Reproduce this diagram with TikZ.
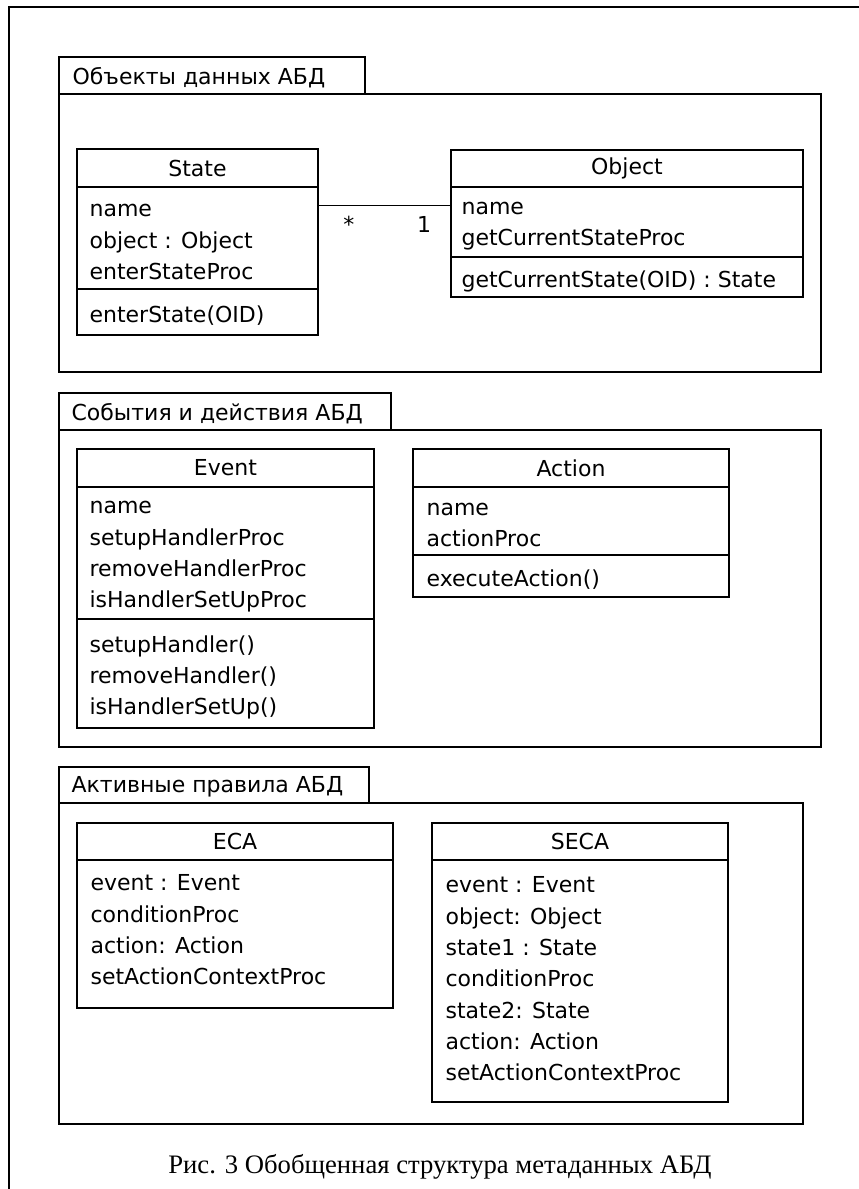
\documentclass[tikz,border=0pt]{standalone}
\usepackage{fontspec}
\newfontfamily\umlfont{DejaVu Sans}
\newfontfamily\capfont{Liberation Serif}
\usetikzlibrary{positioning,fit}

\tikzset{
  box/.style={draw, line width=1pt, inner sep=0pt},
  title/.style={inner sep=0pt, font=\umlfont\fontsize{16.5}{23}\selectfont},
  tabtext/.style={anchor=west, inner sep=0pt, yshift=-1.5pt, font=\umlfont\fontsize{16.5}{23}\selectfont},
  members/.style={anchor=west, align=left, inner sep=0pt, yshift=-3pt, font=\umlfont\fontsize{16.5}{23.5}\selectfont},
  mult/.style={below=8pt, inner sep=0pt, font=\umlfont\fontsize{16.5}{23}\selectfont},
}

\begin{document}
\begin{tikzpicture}[x=0.75pt, y=-0.75pt]
  \useasboundingbox (0,0) rectangle (859,1189);
  \draw[line width=1pt] (9,1189) -- (9,7) -- (859,7);

  % data objects
  \node[box, fit={(59,57) (365,94)}] (tab1) {};
  \node[tabtext, right=10.5pt of tab1.west] (tab1t) {Объекты данных АБД};
  \node[box, fit={(59,94) (821,372)}] (pkg1) {};

  \node[box, fit={(77,149) (318,187)}] (stateH) {};
  \node[box, fit={(77,187) (318,289)}] (stateA) {};
  \node[box, fit={(77,289) (318,335)}] (stateM) {};
  \node[title] (stateT) at (stateH) {State};
  \node[members, right=9.75pt of stateA.west] (stateAt) {name\\object : Object\\enterStateProc};
  \node[members, right=9.75pt of stateM.west] (stateMt) {enterState(OID)};

  \node[box, fit={(451,150) (803,187)}] (objH) {};
  \node[box, fit={(451,187) (803,257)}] (objA) {};
  \node[box, fit={(451,257) (803,297)}] (objM) {};
  \node[title] (objT) at (objH) {Object};
  \node[members, right=8.25pt of objA.west] (objAt) {name\\getCurrentStateProc};
  \node[members, right=8.25pt of objM.west] (objMt) {getCurrentState(OID) : State};

  \draw[line width=1pt] ([yshift=-14.25pt]stateA.north east) -- ([yshift=-14.25pt]objA.north west)
    node[mult, pos=0.23] (m1) {*}
    node[mult, pos=0.80] (m2) {1};

  % events and actions
  \node[box, fit={(59,393) (391,430)}] (tab2) {};
  \node[tabtext, right=9.75pt of tab2.west] (tab2t) {События и действия АБД};
  \node[box, fit={(59,430) (821,747)}] (pkg2) {};

  \node[box, fit={(77,449) (374,487)}] (eventH) {};
  \node[box, fit={(77,487) (374,619)}] (eventA) {};
  \node[box, fit={(77,619) (374,728)}] (eventM) {};
  \node[title] (eventT) at (eventH) {Event};
  \node[members, right=9.75pt of eventA.west] (eventAt) {name\\setupHandlerProc\\removeHandlerProc\\isHandlerSetUpProc};
  \node[members, right=9.75pt of eventM.west] (eventMt) {setupHandler()\\removeHandler()\\isHandlerSetUp()};

  \node[box, fit={(413,449) (729,487)}] (actH) {};
  \node[box, fit={(413,487) (729,555)}] (actA) {};
  \node[box, fit={(413,555) (729,597)}] (actM) {};
  \node[title] (actT) at (actH) {Action};
  \node[members, right=10.5pt of actA.west] (actAt) {name\\actionProc};
  \node[members, right=10.5pt of actM.west] (actMt) {executeAction()};

  % active rules
  \node[box, fit={(59,767) (369,803)}] (tab3) {};
  \node[tabtext, right=9.75pt of tab3.west] (tab3t) {Активные правила АБД};
  \node[box, fit={(59,803) (803,1124)}] (pkg3) {};

  \node[box, fit={(77,823) (393,860)}] (ecaH) {};
  \node[box, fit={(77,860) (393,1008)}] (ecaA) {};
  \node[title] (ecaT) at (ecaH) {ECA};
  \node[members, right=10.5pt of ecaA.west, yshift=6pt] (ecaAt) {event : Event\\conditionProc\\action: Action\\setActionContextProc};

  \node[box, fit={(432,823) (728,860)}] (secaH) {};
  \node[box, fit={(432,860) (728,1102)}] (secaA) {};
  \node[title] (secaT) at (secaH) {SECA};
  \node[members, right=10.5pt of secaA.west, yshift=4.5pt] (secaAt) {event : Event\\object: Object\\state1 : State\\conditionProc\\state2: State\\action: Action\\setActionContextProc};

  \node[font=\capfont\fontsize{20}{24}\selectfont] (cap) at (440,1167) {Рис. 3 Обобщенная структура метаданных АБД};
\end{tikzpicture}
\end{document}
